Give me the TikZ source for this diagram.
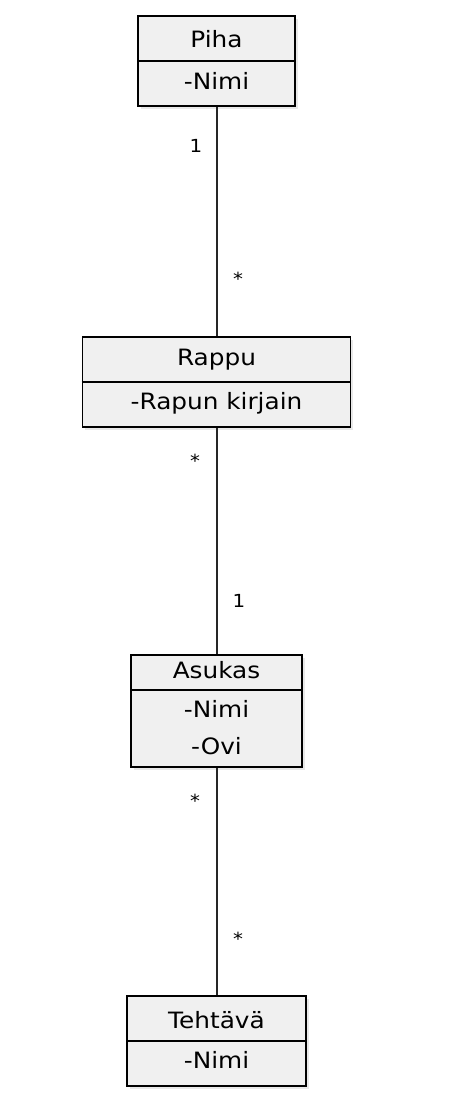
\documentclass[tikz,border=0pt]{standalone}
\usepackage{fontspec}
\setmainfont{DejaVu Sans}[FakeStretch=1.1]
\usetikzlibrary{shadows}
\begin{document}
\begin{tikzpicture}[x=1pt,y=-1pt,
  classbox/.style={draw=black, line width=1.7pt, fill=black!6, rectangle, inner sep=0pt,
    drop shadow={opacity=0.18, shadow xshift=2.5pt, shadow yshift=-2.5pt}},
  divider/.style={draw=black, line width=1.7pt},
  ctext/.style={font=\fontsize{22.5}{24}\selectfont, inner sep=0pt, anchor=base},
  conn/.style={draw=black!85, line width=2pt},
  mult/.style={font=\fontsize{18}{19}\selectfont, inner sep=0pt}]
\useasboundingbox (0,0) rectangle (452,1114);
% Piha
\node[classbox, minimum width=157pt, minimum height=90pt] (piha) at (216.5,61) {};
\draw[divider] (piha.west |- 0,61) -- (piha.east |- 0,61);
\node[ctext] (pihat) at (216.5,47) {Piha};
\node[ctext] (pihaa) at (216.5,89) {-Nimi};
% Rappu
\node[classbox, minimum width=268pt, minimum height=90pt] (rappu) at (216.5,382) {};
\draw[divider] (rappu.west) -- (rappu.east);
\node[ctext] (rapput) at (216.5,365) {Rappu};
\node[ctext] (rappua) at (216.5,409) {-Rapun kirjain};
% Asukas
\node[classbox, minimum width=171pt, minimum height=112pt] (asukas) at (216.5,711) {};
\draw[divider] (asukas.west |- 0,690) -- (asukas.east |- 0,690);
\node[ctext] (asukast) at (216.5,678) {Asukas};
\node[ctext] (asukasa) at (216.5,717) {-Nimi};
\node[ctext] (asukasb) at (216.5,754) {-Ovi};
% Tehtava
\node[classbox, minimum width=179pt, minimum height=90pt] (tehtava) at (216.5,1041) {};
\draw[divider] (tehtava.west) -- (tehtava.east);
\node[ctext] (tehtavat) at (216.5,1028) {Tehtävä};
\node[ctext] (tehtavaa) at (216.5,1068) {-Nimi};
% connectors
\draw[conn] (piha.south) -- (rappu.north);
\draw[conn] (rappu.south) -- (asukas.north);
\draw[conn] (asukas.south) -- (tehtava.north);
% multiplicities
\node[mult] (m1) at (196,146) {1};
\node[mult] (m2) at (238,279) {*};
\node[mult] (m3) at (195,461) {*};
\node[mult] (m4) at (239,601) {1};
\node[mult] (m5) at (195,801) {*};
\node[mult] (m6) at (238,939) {*};
\end{tikzpicture}
\end{document}
